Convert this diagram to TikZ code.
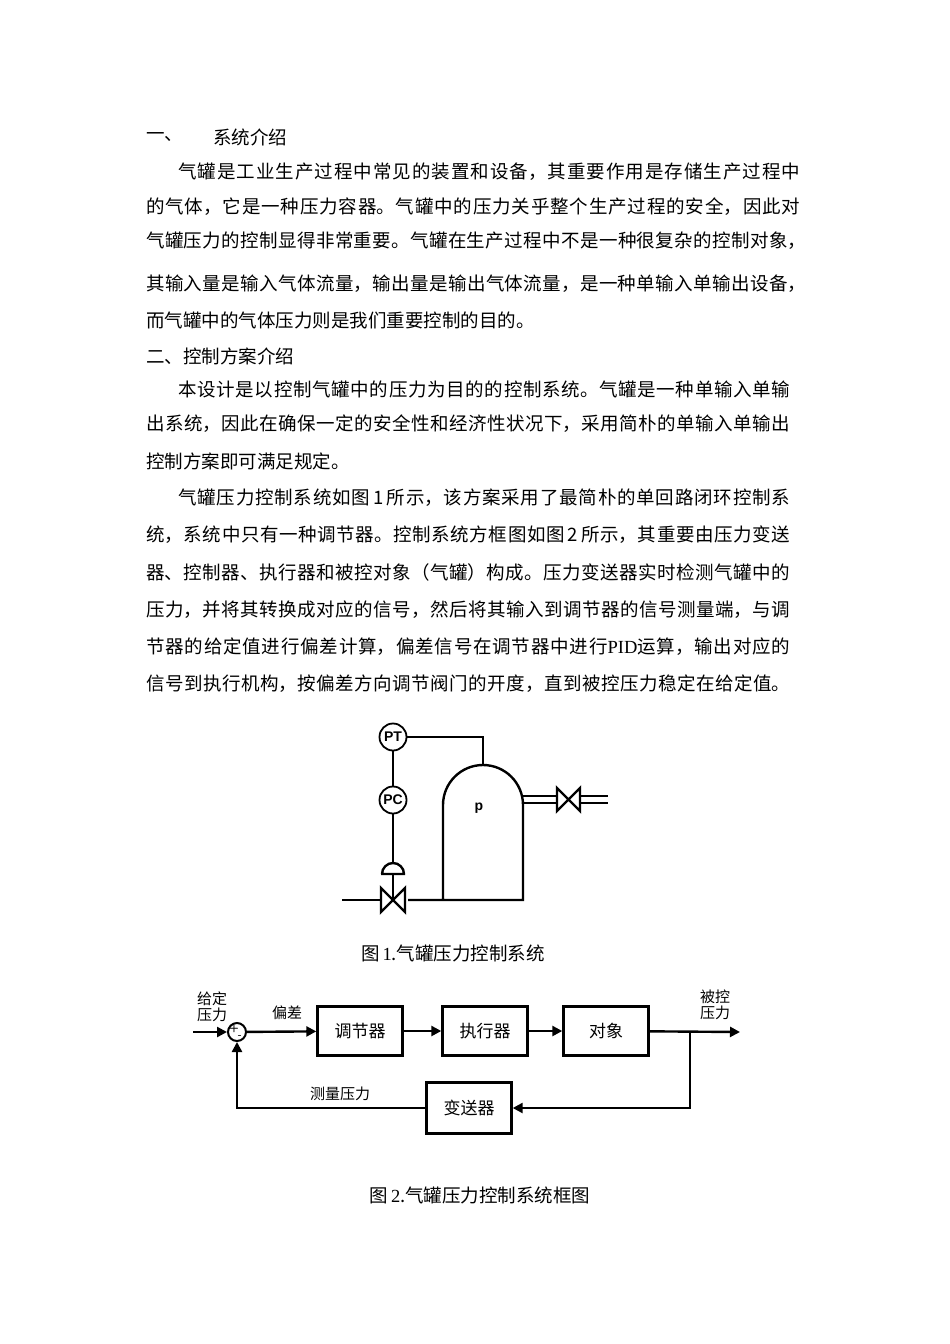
\documentclass[tikz,border=0pt]{standalone}
\usepackage{fontspec}
\setmainfont{Liberation Serif}
\newfontfamily\cjk{Noto Sans CJK SC}
\usetikzlibrary{arrows.meta}
\XeTeXlinebreaklocale "zh"
\XeTeXlinebreakskip=0pt plus 3pt
\begin{document}
\begin{tikzpicture}[x=1pt,y=-1pt,
  ln/.style={anchor=west,inner sep=0pt,font=\cjk\fontsize{18.5}{22}\selectfont},
  jl/.style={ln,text width=#1,align=justify,execute at begin node={\parfillskip=0pt}},
  thk/.style={line width=2.4pt},
  blk/.style={draw,line width=2.4pt,minimum width=85pt,minimum height=49pt,font=\cjk\fontsize{17}{18}\selectfont},
  lab/.style={font=\cjk\fontsize{15}{16}\selectfont,align=center,inner sep=0pt},
  ar/.style={thk,-{Triangle[length=10pt,width=10pt]}}]
\useasboundingbox[fill=white] (0,0) rectangle (950,1344);
% text
\node[ln] (h1) at (146,137) {一、};
\node[ln] (h1b) at (213,137) {系统介绍};
\node[jl=622pt] (t1) at (178,172) {气罐是工业生产过程中常见的装置和设备，其重要作用是存储生产过程中};
\node[jl=654pt] (t2) at (146,207) {的气体，它是一种压力容器。气罐中的压力关乎整个生产过程的安全，因此对};
\node[jl=660pt] (t3) at (146,241) {气罐压力的控制显得非常重要。气罐在生产过程中不是一种很复杂的控制对象，};
\node[jl=660pt] (t4) at (146,284) {其输入量是输入气体流量，输出量是输出气体流量，是一种单输入单输出设备，};
\node[ln] (t5) at (146,320) {而气罐中的气体压力则是我们重要控制的目的。};
\node[ln] (h2) at (146,356) {二、控制方案介绍};
\node[jl=612pt] (t6) at (178,389) {本设计是以控制气罐中的压力为目的的控制系统。气罐是一种单输入单输};
\node[jl=644pt] (t7) at (146,424) {出系统，因此在确保一定的安全性和经济性状况下，采用简朴的单输入单输出};
\node[ln] (t8) at (146,461) {控制方案即可满足规定。};
\node[jl=612pt] (t9) at (178,498) {气罐压力控制系统如图\,1\,所示，该方案采用了最简朴的单回路闭环控制系};
\node[jl=644pt] (t10) at (146,535) {统，系统中只有一种调节器。控制系统方框图如图\,2\,所示，其重要由压力变送};
\node[jl=644pt] (t11) at (146,572) {器、控制器、执行器和被控对象（气罐）构成。压力变送器实时检测气罐中的};
\node[jl=644pt] (t12) at (146,610) {压力，并将其转换成对应的信号，然后将其输入到调节器的信号测量端，与调};
\node[jl=644pt] (t13) at (146,647) {节器的给定值进行偏差计算，偏差信号在调节器中进行{\rmfamily PID}运算，输出对应的};
\node[jl=644pt] (t14) at (146,684) {信号到执行机构，按偏差方向调节阀门的开度，直到被控压力稳定在给定值。};
% figure 1
\tikzset{inst/.style={draw,circle,line width=1.8pt,minimum size=27pt,inner sep=0pt,font=\fontspec{Liberation Sans}\bfseries\fontsize{14}{14}\selectfont}}
\node[inst] (pt) at (393,737) {PT};
\node[inst] (pc) at (393,800) {PC};
\coordinate (dt) at (483,765);
\draw[thk] (pt.east) -| (dt);
\draw[thk] (pt) -- (pc);
\draw[thk] (443,900) -- (443,805) arc[start angle=180,end angle=360,radius=40] -- (523,900) -- (408,900);
\draw[thk] (381,900) -- (342,900);
\draw[thk] (381,888) -- (381,912) -- (405,888) -- (405,912) -- cycle;
\draw[thk] (393,900) -- (393,874);
\draw[thk] (381,874) -- (405,874) (382,874) arc[start angle=180,end angle=360,radius=11];
\draw[thk] (pc) -- (393,863);
\node[font=\fontspec{Liberation Sans}\bfseries\fontsize{14}{14}\selectfont] (p) at (479,808) {p};
\draw[line width=1.8pt] (523,796) -- (557,796) (523,803) -- (557,803) (580,796) -- (608,796) (580,803) -- (608,803);
\draw[thk] (557,788) -- (557,811) -- (580,788) -- (580,811) -- cycle;
\node[ln,anchor=center] (c1) at (453,953) {图\,{\rmfamily 1}.气罐压力控制系统};
% figure 2
\node[draw,circle,line width=2pt,minimum size=18pt,inner sep=0pt] (sum) at (237,1032) {};
\node[font=\sffamily\bfseries\fontsize{11}{11}\selectfont,inner sep=0pt] (pl) at (234,1029) {+};
\node[font=\sffamily\bfseries\fontsize{11}{11}\selectfont,inner sep=0pt] (mi) at (240,1037) {-};
\node[blk] (b1) at (360,1031) {调节器};
\node[blk] (b2) at (485,1031) {执行器};
\node[blk] (b3) at (606,1031) {对象};
\node[blk,minimum height=51pt] (b4) at (469,1108) {变送器};
\coordinate (in) at (193,1032);
\coordinate (out) at (740,1032);
\coordinate (br) at (690,1032);
\draw[ar] (in) -- (sum);
\draw[ar] (sum) -- (b1);
\draw[ar] (b1) -- (b2);
\draw[ar] (b2) -- (b3);
\draw[ar] (b3) -- (out);
\draw[ar] (br) |- (b4.east);
\draw[ar] (b4.west) -| (sum.south);
\node[lab] (l1) at (212,1007) {给定\\压力};
\node[lab] (l2) at (287,1013) {偏差};
\node[lab] (l3) at (715,1005) {被控\\压力};
\node[lab] (l4) at (340,1094) {测量压力};
\node[ln,anchor=center] (c2) at (480,1195) {图\,{\rmfamily 2}.气罐压力控制系统框图};
\end{tikzpicture}
\end{document}
